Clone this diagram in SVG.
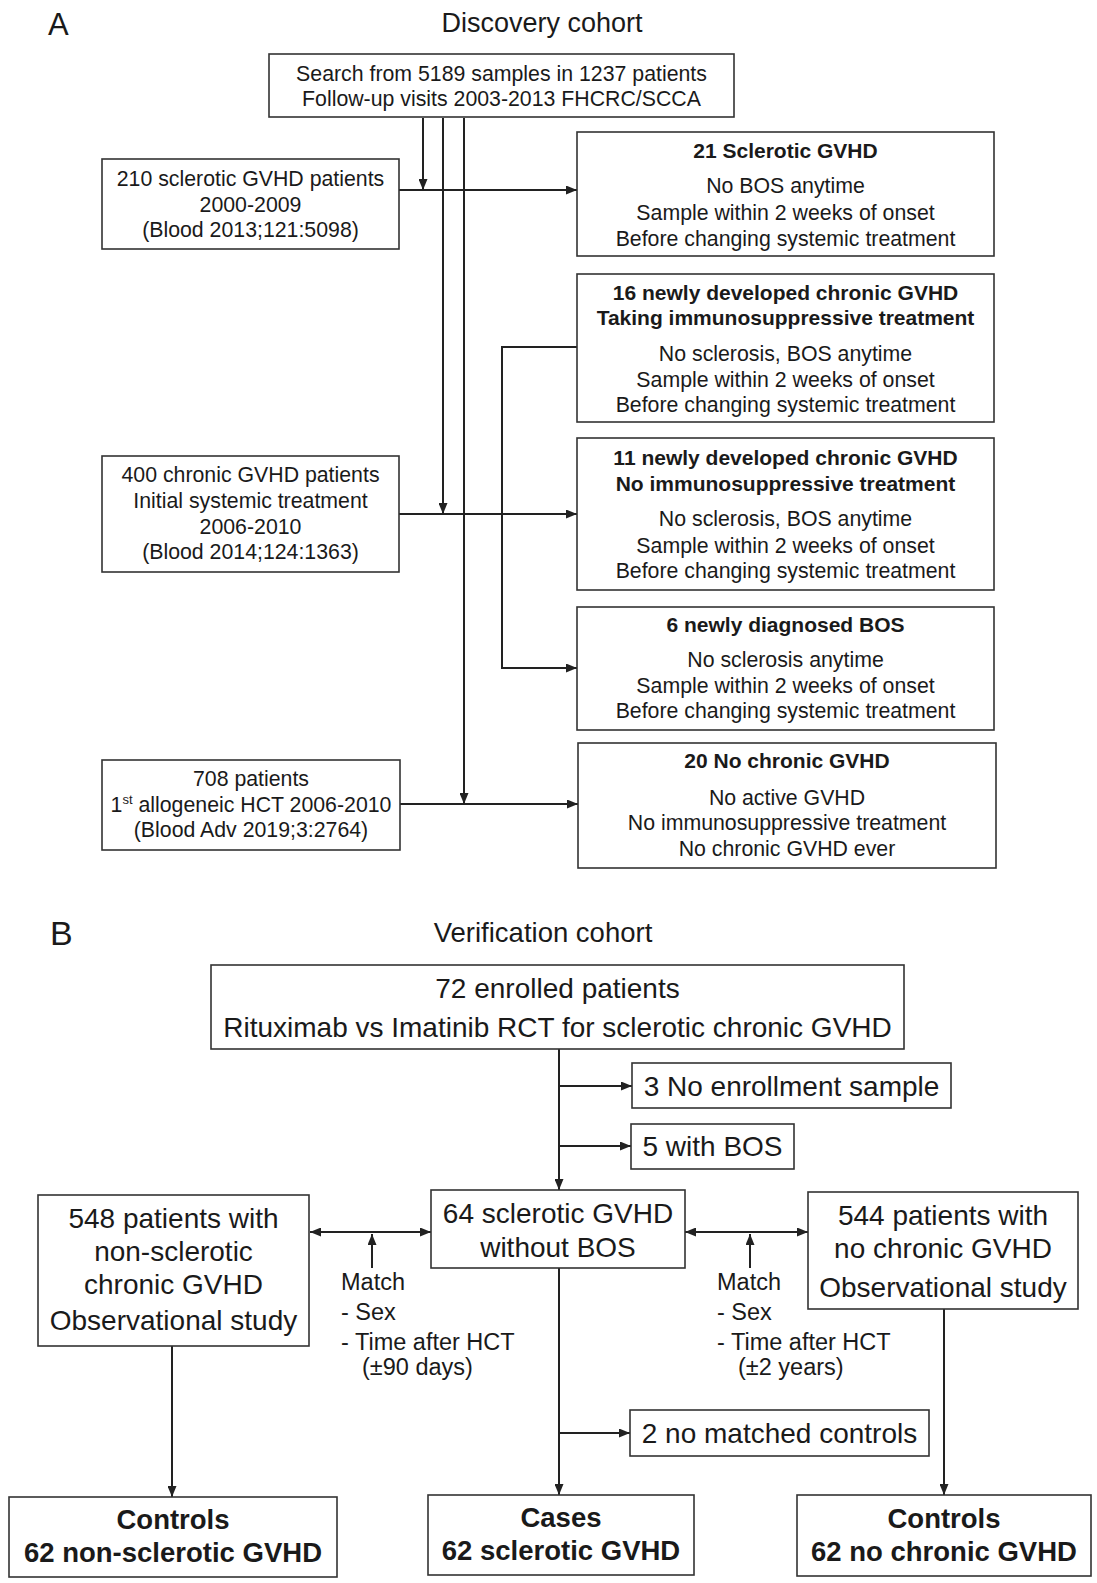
<svg xmlns="http://www.w3.org/2000/svg" width="1097" height="1583" viewBox="0 0 1097 1583">
<style>
text{font-family:"Liberation Sans",Arial,Helvetica,sans-serif;fill:#1a1a1a;text-anchor:middle}
.a{font-size:21.3px}
.ab{font-size:21px;font-weight:bold}
.b{font-size:28px}
.bb{font-size:27.5px;font-weight:bold}
.m{font-size:23.5px;text-anchor:start}
.box{fill:#fff;stroke:#333;stroke-width:1.6}
.ln{stroke:#222;stroke-width:2;fill:none}
.arr{marker-end:url(#ah)}
.dbl{marker-start:url(#ah);marker-end:url(#ah)}
</style>
<defs>
<marker id="ah" viewBox="0 0 11 9" refX="11" refY="4.5" markerWidth="11" markerHeight="9" markerUnits="userSpaceOnUse" orient="auto-start-reverse">
<path d="M0,0 L11,4.5 L0,9 z" fill="#222"/>
</marker>
</defs>
<rect width="1097" height="1583" fill="#fff"/>

<g id="labels">
<text x="48" y="35" style="font-size:31px;text-anchor:start">A</text>
<text x="542" y="32" style="font-size:27px">Discovery cohort</text>
<text x="50" y="945" style="font-size:34px;text-anchor:start">B</text>
<text x="543" y="942" style="font-size:27.5px">Verification cohort</text>
</g>

<g id="connectors">
<!-- Part A -->
<line class="ln arr" x1="423" y1="118" x2="423" y2="190"/>
<line class="ln arr" x1="443" y1="118" x2="443" y2="514"/>
<line class="ln arr" x1="464" y1="118" x2="464" y2="804"/>
<line class="ln arr" x1="399" y1="190" x2="577" y2="190"/>
<line class="ln arr" x1="399" y1="514" x2="577" y2="514"/>
<line class="ln arr" x1="400" y1="804" x2="578" y2="804"/>
<polyline class="ln arr" points="577,347 502,347 502,668 577,668"/>
<!-- Part B -->
<line class="ln arr" x1="559" y1="1049" x2="559" y2="1190"/>
<line class="ln arr" x1="559" y1="1086" x2="632" y2="1086"/>
<line class="ln arr" x1="559" y1="1146" x2="631" y2="1146"/>
<line class="ln dbl" x1="310" y1="1232" x2="431" y2="1232"/>
<line class="ln dbl" x1="685" y1="1232" x2="808" y2="1232"/>
<line class="ln arr" x1="372" y1="1268" x2="372" y2="1234"/>
<line class="ln arr" x1="750" y1="1268" x2="750" y2="1234"/>
<line class="ln arr" x1="559" y1="1268" x2="559" y2="1495"/>
<line class="ln arr" x1="559" y1="1433" x2="630" y2="1433"/>
<line class="ln arr" x1="172" y1="1346" x2="172" y2="1497"/>
<line class="ln arr" x1="944" y1="1309" x2="944" y2="1495"/>
</g>

<g id="search">
<rect class="box" x="269" y="54" width="465" height="63"/>
<text class="a" x="501.5" y="80.5">Search from 5189 samples in 1237 patients</text>
<text class="a" x="501.5" y="106">Follow-up visits 2003-2013 FHCRC/SCCA</text>
</g>

<g id="sclerotic210">
<rect class="box" x="102" y="159" width="297" height="90"/>
<text class="a" x="250.5" y="186">210 sclerotic GVHD patients</text>
<text class="a" x="250.5" y="212">2000-2009</text>
<text class="a" x="250.5" y="237">(Blood 2013;121:5098)</text>
</g>

<g id="chronic400">
<rect class="box" x="102" y="456" width="297" height="116"/>
<text class="a" x="250.5" y="482">400 chronic GVHD patients</text>
<text class="a" x="250.5" y="508">Initial systemic treatment</text>
<text class="a" x="250.5" y="534">2006-2010</text>
<text class="a" x="250.5" y="559">(Blood 2014;124:1363)</text>
</g>

<g id="patients708">
<rect class="box" x="102" y="760" width="298" height="90"/>
<text class="a" x="251" y="786">708 patients</text>
<text class="a" x="251" y="812">1<tspan dy="-8" style="font-size:13px">st</tspan><tspan dy="8"> allogeneic HCT 2006-2010</tspan></text>
<text class="a" x="251" y="837">(Blood Adv 2019;3:2764)</text>
</g>

<g id="r21">
<rect class="box" x="577" y="132" width="417" height="124"/>
<text class="ab" x="785.5" y="158">21 Sclerotic GVHD</text>
<text class="a" x="785.5" y="193">No BOS anytime</text>
<text class="a" x="785.5" y="220">Sample within 2 weeks of onset</text>
<text class="a" x="785.5" y="245.5">Before changing systemic treatment</text>
</g>

<g id="r16">
<rect class="box" x="577" y="274" width="417" height="148"/>
<text class="ab" x="785.5" y="300">16 newly developed chronic GVHD</text>
<text class="ab" x="785.5" y="325">Taking immunosuppressive treatment</text>
<text class="a" x="785.5" y="360.5">No sclerosis, BOS anytime</text>
<text class="a" x="785.5" y="386.5">Sample within 2 weeks of onset</text>
<text class="a" x="785.5" y="412">Before changing systemic treatment</text>
</g>

<g id="r11">
<rect class="box" x="577" y="438" width="417" height="152"/>
<text class="ab" x="785.5" y="465">11 newly developed chronic GVHD</text>
<text class="ab" x="785.5" y="490.5">No immunosuppressive treatment</text>
<text class="a" x="785.5" y="526">No sclerosis, BOS anytime</text>
<text class="a" x="785.5" y="552.5">Sample within 2 weeks of onset</text>
<text class="a" x="785.5" y="578">Before changing systemic treatment</text>
</g>

<g id="r6">
<rect class="box" x="577" y="607" width="417" height="123"/>
<text class="ab" x="785.5" y="631.5">6 newly diagnosed BOS</text>
<text class="a" x="785.5" y="666.5">No sclerosis anytime</text>
<text class="a" x="785.5" y="692.5">Sample within 2 weeks of onset</text>
<text class="a" x="785.5" y="718">Before changing systemic treatment</text>
</g>

<g id="r20">
<rect class="box" x="578" y="743" width="418" height="125"/>
<text class="ab" x="787" y="768">20 No chronic GVHD</text>
<text class="a" x="787" y="805">No active GVHD</text>
<text class="a" x="787" y="830">No immunosuppressive treatment</text>
<text class="a" x="787" y="856">No chronic GVHD ever</text>
</g>

<g id="enrolled72">
<rect class="box" x="211" y="965" width="693" height="84"/>
<text class="b" x="557.5" y="998">72 enrolled patients</text>
<text class="b" x="557.5" y="1037">Rituximab vs Imatinib RCT for sclerotic chronic GVHD</text>
</g>

<g id="noEnroll">
<rect class="box" x="632" y="1063" width="319" height="45"/>
<text class="b" x="791.5" y="1096">3 No enrollment sample</text>
</g>

<g id="withBOS">
<rect class="box" x="631" y="1124" width="163" height="45"/>
<text class="b" x="712.5" y="1156">5 with BOS</text>
</g>

<g id="scl64">
<rect class="box" x="431" y="1190" width="254" height="78"/>
<text class="b" x="558" y="1223">64 sclerotic GVHD</text>
<text class="b" x="558" y="1257">without BOS</text>
</g>

<g id="nonscl548">
<rect class="box" x="38" y="1195" width="271" height="151"/>
<text class="b" x="173.5" y="1228">548 patients with</text>
<text class="b" x="173.5" y="1261">non-sclerotic</text>
<text class="b" x="173.5" y="1294">chronic GVHD</text>
<text class="b" x="173.5" y="1330">Observational study</text>
</g>

<g id="noChronic544">
<rect class="box" x="808" y="1192" width="270" height="117"/>
<text class="b" x="943" y="1225">544 patients with</text>
<text class="b" x="943" y="1258">no chronic GVHD</text>
<text class="b" x="943" y="1297">Observational study</text>
</g>

<g id="matchLeft">
<text class="m" x="341" y="1290">Match</text>
<text class="m" x="341" y="1320">- Sex</text>
<text class="m" x="341" y="1350">- Time after HCT</text>
<text class="m" x="362" y="1375">(±90 days)</text>
</g>

<g id="matchRight">
<text class="m" x="717" y="1290">Match</text>
<text class="m" x="717" y="1320">- Sex</text>
<text class="m" x="717" y="1350">- Time after HCT</text>
<text class="m" x="738" y="1375">(±2 years)</text>
</g>

<g id="noMatched">
<rect class="box" x="630" y="1410" width="299" height="46"/>
<text class="b" x="779.5" y="1443">2 no matched controls</text>
</g>

<g id="controlsLeft">
<rect class="box" x="9" y="1497" width="328" height="80"/>
<text class="bb" x="173" y="1529">Controls</text>
<text class="bb" x="173" y="1562">62 non-sclerotic GVHD</text>
</g>

<g id="cases">
<rect class="box" x="428" y="1495" width="266" height="80"/>
<text class="bb" x="561" y="1527">Cases</text>
<text class="bb" x="561" y="1560">62 sclerotic GVHD</text>
</g>

<g id="controlsRight">
<rect class="box" x="797" y="1495" width="294" height="81"/>
<text class="bb" x="944" y="1528">Controls</text>
<text class="bb" x="944" y="1561">62 no chronic GVHD</text>
</g>
</svg>
